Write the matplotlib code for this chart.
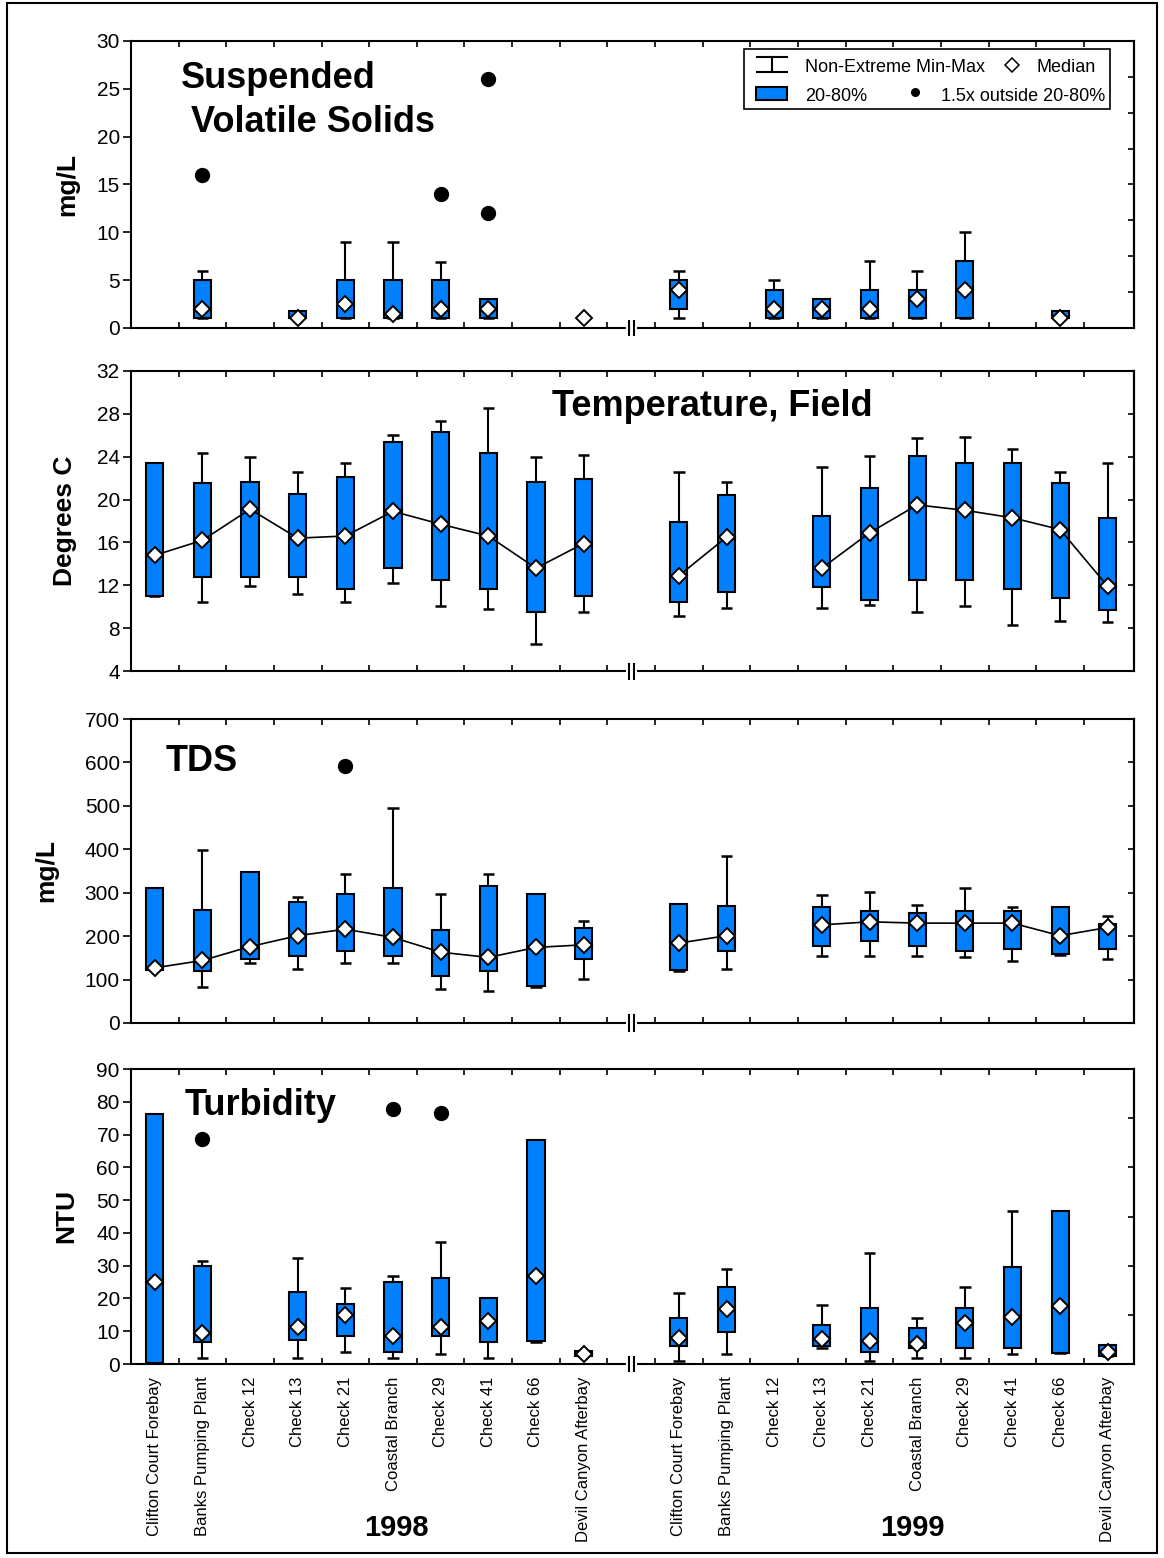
import numpy as np
import matplotlib.pyplot as plt
import matplotlib.transforms as mtransforms
from matplotlib.patches import Rectangle

plt.rcParams['font.family'] = ['Liberation Sans', 'DejaVu Sans']

stations = ['Clifton Court Forebay', 'Banks Pumping Plant', 'Check 12', 'Check 13',
            'Check 21', 'Coastal Branch', 'Check 29', 'Check 41', 'Check 66',
            'Devil Canyon Afterbay']
years = ['1998', '1999']
# 1998 sits on slots 0-9, 1999 on 11-20; slot 10 is the axis break
xpos = np.r_[np.arange(10), np.arange(11, 21)]
nan = np.nan

# Suspended volatile solids, mg/L (1998 then 1999)
svs_lo  = [nan, 1, nan, 1, 1, 1, 1, 1, nan, nan,   1, nan, 1, 1, 1, 1, 1, nan, 1, nan]
svs_q20 = [nan, 1, nan, 1, 1, 1, 1, 1, nan, nan,   2, nan, 1, 1, 1, 1, 1, nan, 1, nan]
svs_med = [nan, 2, nan, 1, 2.5, 1.5, 2, 2, nan, 1,  4, nan, 2, 2, 2, 3, 4, nan, 1, nan]
svs_q80 = [nan, 5, nan, 1.8, 5, 5, 5, 3, nan, nan, 5, nan, 4, 3, 4, 4, 7, nan, 1.8, nan]
svs_hi  = [nan, 6, nan, 1.8, 9, 9, 6.9, 3, nan, nan, 6, nan, 5, 3, 7, 6, 10, nan, 1.8, nan]
svs_out_x = [1, 6, 7, 7]
svs_out_y = [16, 14, 26, 12]

# Field temperature, degrees C
tmp_lo  = [11.0, 10.4, 11.9, 11.2, 10.4, 12.2, 10.1, 9.8, 6.5, 9.5,
           9.1, 9.9, nan, 9.9, 10.2, 9.5, 10.1, 8.3, 8.7, 8.6]
tmp_q20 = [11.0, 12.8, 12.8, 12.8, 11.7, 13.6, 12.5, 11.7, 9.5, 11.0,
           10.4, 11.4, nan, 11.8, 10.6, 12.5, 12.5, 11.7, 10.8, 9.7]
tmp_med = [14.8, 16.2, 19.1, 16.4, 16.6, 18.9, 17.7, 16.6, 13.6, 15.9,
           12.9, 16.5, nan, 13.6, 16.9, 19.5, 19.0, 18.3, 17.2, 11.9]
tmp_q80 = [23.4, 21.5, 21.6, 20.5, 22.1, 25.4, 26.3, 24.3, 21.6, 21.9,
           17.9, 20.4, nan, 18.5, 21.1, 24.1, 23.4, 23.4, 21.5, 18.3]
tmp_hi  = [23.4, 24.3, 24.0, 22.6, 23.4, 26.0, 27.3, 28.5, 24.0, 24.2,
           22.6, 21.6, nan, 23.0, 24.1, 25.7, 25.8, 24.7, 22.6, 23.4]

# Total dissolved solids, mg/L
tds_lo  = [122, 83, 138, 124, 138, 138, 78, 73, 84, 101,
           119, 124, nan, 155, 155, 155, 151, 142, 157, 147]
tds_q20 = [122, 119, 148, 155, 165, 155, 109, 119, 86, 148,
           122, 165, nan, 178, 188, 178, 165, 170, 159, 170]
tds_med = [127, 144, 176, 201, 216, 197, 163, 151, 174, 180,
           184, 201, nan, 226, 233, 230, 230, 230, 201, 220]
tds_q80 = [311, 261, 348, 279, 298, 310, 215, 316, 298, 219,
           275, 270, nan, 266, 257, 253, 257, 257, 266, 229]
tds_hi  = [311, 398, 348, 289, 343, 495, 298, 343, 298, 234,
           275, 385, nan, 294, 302, 271, 312, 266, 266, 247]
tds_out_x = [4]
tds_out_y = [591]

# Turbidity, NTU
tur_lo  = [0.3, 1.7, nan, 1.7, 3.6, 1.7, 3.1, 1.7, 6.8, 2.6,
           1.0, 3.0, nan, 4.9, 1.0, 1.7, 1.7, 3.0, 3.4, 2.5]
tur_q20 = [0.3, 6.6, nan, 7.3, 8.5, 3.6, 8.5, 6.6, 7.0, 2.6,
           5.4, 9.7, nan, 5.4, 3.6, 4.8, 4.8, 4.8, 3.4, 2.5]
tur_med = [25.1, 9.5, nan, 11.2, 15.1, 8.7, 11.2, 13.1, 26.9, 3.2,
           7.9, 16.8, nan, 7.6, 6.9, 6.1, 12.5, 14.5, 17.6, 3.6]
tur_q80 = [76.4, 29.8, nan, 21.9, 18.2, 24.9, 26.1, 20.0, 68.5, 3.9,
           13.9, 23.6, nan, 12.0, 17.0, 10.9, 17.0, 29.7, 46.7, 5.9]
tur_hi  = [76.4, 31.3, nan, 32.3, 23.1, 26.8, 37.3, 20.0, 68.5, 3.9,
           21.7, 29.1, nan, 18.1, 34.0, 13.9, 23.6, 46.7, 46.7, 5.9]
tur_out_x = [1, 5, 6]
tur_out_y = [68.7, 77.9, 76.7]

BLUE = '#0080ff'


def draw_panel(ax, lo, q20, med, q80, hi, out_x, out_y, connect):
    lo, q20, med, q80, hi = (np.asarray(a, float) for a in (lo, q20, med, q80, hi))
    ok = np.isfinite(q20)
    x = xpos[ok]
    # whiskers and caps
    ax.vlines(x, q80[ok], hi[ok], color='black', lw=1.5, zorder=1.5)
    ax.vlines(x, lo[ok], q20[ok], color='black', lw=1.5, zorder=1.5)
    ax.hlines(hi[ok], x - 0.12, x + 0.12, color='black', lw=1.8, zorder=1.5)
    ax.hlines(lo[ok], x - 0.12, x + 0.12, color='black', lw=1.8, zorder=1.5)
    # 20-80% boxes
    ax.bar(x, q80[ok] - q20[ok], bottom=q20[ok], width=0.36, color=BLUE,
           edgecolor='black', linewidth=1.5, zorder=2)
    if connect:
        ax.plot(xpos[:10], med[:10], color='black', lw=1.2, zorder=3)
        ax.plot(xpos[10:], med[10:], color='black', lw=1.2, zorder=3)
    ax.plot(xpos, med, 'D', ms=8.5, mfc='white', mec='black', mew=1.4,
            linestyle='none', zorder=4)
    if out_x:
        ax.plot(out_x, out_y, 'o', color='black', ms=10, linestyle='none', zorder=4)


def style_axes(ax, ylim, yticks, rticks, bottom=False):
    ax.set_xlim(-0.5, 20.55)
    ax.set_ylim(*ylim)
    ax.set_yticks(yticks)
    for s in ax.spines.values():
        s.set_linewidth(1.5)
    ax.set_xticks(xpos)
    ax.set_xticks(np.arange(0.5, 20, 1), minor=True)
    ax.tick_params(axis='x', which='minor', direction='in', top=True, bottom=True,
                   length=4, width=1.2)
    ax.tick_params(axis='x', which='major', length=0, pad=9, labelsize=12,
                   labelrotation=90, labelbottom=bottom)
    if bottom:
        ax.set_xticklabels(stations * 2)
    ax.tick_params(axis='y', direction='out', length=6, width=1.2, labelsize=15,
                   pad=2, right=False)
    sec = ax.secondary_yaxis('right')
    sec.set_yticks(rticks)
    sec.tick_params(direction='in', length=4, width=1.2, labelright=False)
    sec.spines['right'].set_linewidth(1.5)
    # axis break on the bottom spine
    tr = mtransforms.blended_transform_factory(ax.transData, ax.transAxes)
    ax.plot([9.93, 10.07], [0, 0], color='white', lw=3, transform=tr,
            clip_on=False, zorder=6)
    for bx in (9.95, 10.05):
        ax.plot([bx, bx], [-0.025, 0.025], color='black', lw=1.5, transform=tr,
                clip_on=False, zorder=7)


fig = plt.figure(figsize=(11.64, 15.58), dpi=100)
L, W = 0.1125, 0.8617
ax1 = fig.add_axes([L, 0.7895, W, 0.1842])
ax2 = fig.add_axes([L, 0.5693, W, 0.1926])
ax3 = fig.add_axes([L, 0.3434, W, 0.1951])
ax4 = fig.add_axes([L, 0.1245, W, 0.1893])

draw_panel(ax1, svs_lo, svs_q20, svs_med, svs_q80, svs_hi, svs_out_x, svs_out_y, False)
style_axes(ax1, (0, 30), np.arange(0, 31, 5), np.linspace(0, 30, 9)[1:-1])

draw_panel(ax2, tmp_lo, tmp_q20, tmp_med, tmp_q80, tmp_hi, [], [], True)
style_axes(ax2, (4, 32), np.arange(4, 33, 4), np.arange(8, 32, 4))

draw_panel(ax3, tds_lo, tds_q20, tds_med, tds_q80, tds_hi, tds_out_x, tds_out_y, True)
style_axes(ax3, (0, 700), np.arange(0, 701, 100), np.arange(100, 700, 100))

draw_panel(ax4, tur_lo, tur_q20, tur_med, tur_q80, tur_hi, tur_out_x, tur_out_y, False)
style_axes(ax4, (0, 90), np.arange(0, 91, 10), np.arange(15, 90, 15), bottom=True)

# panel titles
tkw = dict(fontsize=26, fontweight='bold', va='baseline', ha='left')
ax1.text(0.0496, 0.835, 'Suspended', transform=ax1.transAxes, **tkw)
ax1.text(0.0602, 0.684, 'Volatile Solids', transform=ax1.transAxes, **tkw)
ax2.text(0.42, 0.849, 'Temperature, Field', transform=ax2.transAxes, **tkw)
ax3.text(0.035, 0.828, 'TDS', transform=ax3.transAxes, **tkw)
ax4.text(0.054, 0.843, 'Turbidity', transform=ax4.transAxes, **tkw)

# y-axis labels
H = 1558.0
for lab, px, py in [('mg/L', 67, 184), ('Degrees C', 65, 521),
                    ('mg/L', 46, 871), ('NTU', 66, 1216)]:
    fig.text(px / 1164.0, 1 - py / H, lab, rotation=90, ha='center', va='center',
             fontsize=19, fontweight='bold')

# year labels under the station names
trx = mtransforms.blended_transform_factory(ax4.transData, ax4.transAxes)
for yr, cx in zip(years, (5.08, 15.9)):
    ax4.text(cx, -0.556, yr, transform=trx, ha='center', va='center', fontsize=21,
             fontweight='bold', family=['Liberation Sans Narrow', 'Liberation Sans'])

# legend box in the top panel
ta = ax1.transAxes
ax1.add_patch(Rectangle((0.6114, 0.764), 0.3648, 0.209, transform=ta, fc='white',
                        ec='black', lw=1.2, zorder=8))
for xs, ys in [([0.6238, 0.6542], [0.945, 0.945]), ([0.6238, 0.6542], [0.892, 0.892]),
               ([0.639, 0.639], [0.892, 0.945])]:
    ax1.plot(xs, ys, color='black', lw=1.5, transform=ta, zorder=9)
ax1.add_patch(Rectangle((0.6233, 0.794), 0.0309, 0.047, transform=ta, fc=BLUE,
                        ec='black', lw=1.5, zorder=9))
ax1.plot(0.878, 0.915, 'D', ms=7.5, mfc='white', mec='black', mew=1.1,
         transform=ta, zorder=9)
ax1.plot(0.7815, 0.822, 'o', ms=5.5, color='black', transform=ta, zorder=9)
lkw = dict(transform=ta, fontsize=13, va='center', ha='left', zorder=9)
ax1.text(0.672, 0.907, 'Non-Extreme Min-Max', **lkw)
ax1.text(0.903, 0.907, 'Median', **lkw)
ax1.text(0.672, 0.808, '20-80%', **lkw)
ax1.text(0.8076, 0.808, '1.5x outside 20-80%', **lkw)

# frame around the whole figure
fig.patches.append(Rectangle((0.006, 0.0032), 0.988, 0.9948, transform=fig.transFigure,
                             fill=False, ec='black', lw=1.5))

fig.savefig('out.png', dpi=100)
